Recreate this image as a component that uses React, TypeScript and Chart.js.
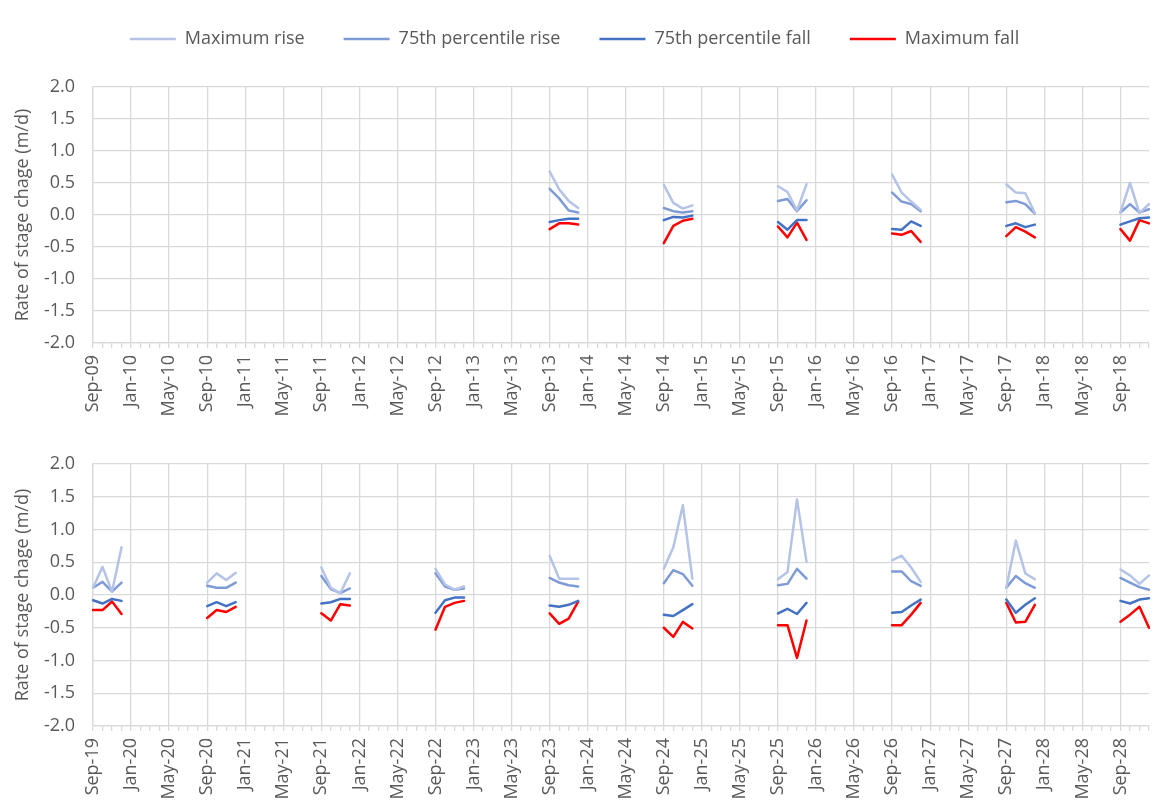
import React, { useEffect, useRef } from 'react';
import { Chart, registerables } from 'chart.js';

Chart.register(...registerables);

// ---------- categories ----------
const MONTH_NAMES = ['Jan', 'Feb', 'Mar', 'Apr', 'May', 'Jun', 'Jul', 'Aug', 'Sep', 'Oct', 'Nov', 'Dec'];
const TOP_START = { year: 2009, month: 8 }; // Sep-09
const BOTTOM_START = { year: 2019, month: 8 }; // Sep-19
const MONTH_COUNT = 112; // through Dec-18 / Dec-28
const SEASON_MONTHS = [8, 9, 10, 11]; // Sep, Oct, Nov, Dec

// ---------- series names / colours ----------
const SERIES_NAMES = ['Maximum rise', '75th percentile rise', '75th percentile fall', 'Maximum fall'];
const SERIES_COLORS = ['#b4c3e6', '#7f9bd6', '#4472c4', '#ff0000'];

// ---------- top panel values (Sep, Oct, Nov, Dec of each year) ----------
const TOP_YEARS = [2013, 2014, 2015, 2016, 2017, 2018];
const topMaxRise = [
  [0.68, 0.40, 0.22, 0.11],
  [0.47, 0.19, 0.10, 0.15],
  [0.45, 0.36, 0.07, 0.48],
  [0.63, 0.35, 0.21, 0.08],
  [0.48, 0.35, 0.34, 0.03],
  [0.04, 0.50, 0.03, 0.17],
];
const top75Rise = [
  [0.41, 0.26, 0.07, 0.04],
  [0.11, 0.06, 0.04, 0.06],
  [0.22, 0.25, 0.06, 0.23],
  [0.35, 0.21, 0.17, 0.06],
  [0.20, 0.22, 0.17, 0.02],
  [0.04, 0.17, 0.04, 0.09],
];
const top75Fall = [
  [-0.11, -0.08, -0.06, -0.06],
  [-0.08, -0.03, -0.04, -0.01],
  [-0.11, -0.23, -0.08, -0.08],
  [-0.22, -0.23, -0.10, -0.17],
  [-0.17, -0.13, -0.19, -0.15],
  [-0.15, -0.10, -0.05, -0.04],
];
const topMaxFall = [
  [-0.22, -0.13, -0.13, -0.15],
  [-0.44, -0.17, -0.09, -0.06],
  [-0.18, -0.35, -0.12, -0.39],
  [-0.29, -0.31, -0.25, -0.42],
  [-0.33, -0.19, -0.26, -0.35],
  [-0.22, -0.40, -0.08, -0.13],
];

// ---------- bottom panel values ----------
const BOTTOM_YEARS = [2019, 2020, 2021, 2022, 2023, 2024, 2025, 2026, 2027, 2028];
const botMaxRise = [
  [0.11, 0.43, 0.05, 0.73],
  [0.19, 0.33, 0.23, 0.34],
  [0.42, 0.11, 0.03, 0.33],
  [0.40, 0.16, 0.08, 0.13],
  [0.60, 0.25, 0.25, 0.25],
  [0.40, 0.73, 1.37, 0.25],
  [0.24, 0.35, 1.46, 0.51],
  [0.53, 0.60, 0.42, 0.20],
  [0.11, 0.83, 0.33, 0.24],
  [0.39, 0.30, 0.17, 0.30],
];
const bot75Rise = [
  [0.11, 0.20, 0.05, 0.19],
  [0.14, 0.11, 0.11, 0.19],
  [0.29, 0.09, 0.03, 0.10],
  [0.33, 0.13, 0.08, 0.10],
  [0.26, 0.19, 0.15, 0.13],
  [0.18, 0.38, 0.32, 0.14],
  [0.15, 0.17, 0.40, 0.25],
  [0.36, 0.36, 0.21, 0.14],
  [0.11, 0.29, 0.18, 0.11],
  [0.26, 0.19, 0.12, 0.08],
];
const bot75Fall = [
  [-0.08, -0.13, -0.06, -0.09],
  [-0.17, -0.11, -0.17, -0.11],
  [-0.13, -0.11, -0.06, -0.06],
  [-0.27, -0.08, -0.04, -0.04],
  [-0.16, -0.18, -0.15, -0.09],
  [-0.30, -0.32, -0.23, -0.14],
  [-0.28, -0.21, -0.29, -0.12],
  [-0.27, -0.26, -0.16, -0.07],
  [-0.07, -0.27, -0.15, -0.05],
  [-0.09, -0.13, -0.07, -0.05],
];
const botMaxFall = [
  [-0.23, -0.23, -0.10, -0.29],
  [-0.35, -0.23, -0.26, -0.18],
  [-0.28, -0.39, -0.14, -0.16],
  [-0.53, -0.18, -0.12, -0.09],
  [-0.28, -0.44, -0.36, -0.10],
  [-0.50, -0.64, -0.41, -0.51],
  [-0.46, -0.46, -0.96, -0.39],
  [-0.46, -0.46, -0.30, -0.12],
  [-0.12, -0.42, -0.41, -0.15],
  [-0.41, -0.30, -0.18, -0.50],
];

// ---------- axis ----------
const Y_MIN = -2;
const Y_MAX = 2;
const Y_STEP = 0.5;
const LABEL_EVERY = 4;
const Y_TITLE = 'Rate of stage chage (m/d)';

const FONT = "'Open Sans', 'DejaVu Sans', sans-serif";
const TEXT_COLOR = '#595959';
const GRID_COLOR = '#d9d9d9';

type YM = { year: number; month: number };

function buildMonths(start: YM, count: number): YM[] {
  const out: YM[] = [];
  for (let i = 0; i < count; i++) {
    const t = start.month + i;
    out.push({ year: start.year + Math.floor(t / 12), month: t % 12 });
  }
  return out;
}

function monthLabel(m: YM): string {
  return `${MONTH_NAMES[m.month]}-${String(m.year % 100).padStart(2, '0')}`;
}

function buildSeries(months: YM[], years: number[], segs: number[][]): (number | null)[] {
  return months.map((m) => {
    const yi = years.indexOf(m.year);
    const mi = SEASON_MONTHS.indexOf(m.month);
    if (yi < 0 || mi < 0) return null;
    return segs[yi][mi];
  });
}

function makeConfig(
  start: YM,
  years: number[],
  groups: number[][][],
  opts: { legend: boolean; padTop: number; xHeight: number; legendHeight?: number }
): any {
  const months = buildMonths(start, MONTH_COUNT);
  const labels = months.map(monthLabel);
  const datasets = groups.map((g, i) => ({
    label: SERIES_NAMES[i],
    data: buildSeries(months, years, g),
    borderColor: SERIES_COLORS[i],
    backgroundColor: SERIES_COLORS[i],
    borderWidth: 2.5,
    pointRadius: 0,
    pointHoverRadius: 0,
    tension: 0,
    spanGaps: false,
    borderJoinStyle: 'round',
    borderCapStyle: 'round',
  }));

  const plugins: any[] = [];
  if (opts.legend && opts.legendHeight) {
    const h = opts.legendHeight;
    plugins.push({
      id: 'legendHeight',
      beforeInit(chart: any) {
        const lg = chart.legend;
        if (!lg || lg.__patched) return;
        const orig = lg.fit;
        lg.fit = function () {
          orig.call(this);
          this.height = h;
        };
        lg.__patched = true;
      },
    });
  }

  return {
    type: 'line',
    data: { labels, datasets },
    plugins,
    options: {
      animation: false,
      responsive: false,
      devicePixelRatio: 1,
      layout: { padding: { top: opts.padTop, right: 22, left: 0, bottom: 0 } },
      plugins: {
        legend: {
          display: opts.legend,
          position: 'top',
          align: 'center',
          labels: {
            usePointStyle: true,
            pointStyle: 'line',
            pointStyleWidth: 46,
            padding: 39,
            color: TEXT_COLOR,
            font: { family: FONT, size: 18 },
          },
        },
        tooltip: { enabled: false },
      },
      scales: {
        x: {
          type: 'category',
          offset: false,
          afterFit: (scale: any) => {
            scale.height = opts.xHeight;
            scale.paddingLeft = 0;
            scale.paddingRight = 0;
          },
          grid: {
            display: true,
            drawOnChartArea: true,
            drawTicks: true,
            tickLength: 5,
            offset: false,
            color: (ctx: any) => (ctx.index % LABEL_EVERY === 0 ? GRID_COLOR : 'rgba(0,0,0,0)'),
            tickColor: GRID_COLOR,
            lineWidth: 1.3,
          },
          border: { display: true, color: GRID_COLOR, width: 1.3 },
          ticks: {
            autoSkip: false,
            minRotation: 90,
            maxRotation: 90,
            padding: 7,
            color: TEXT_COLOR,
            font: { family: FONT, size: 18 },
            callback: (_v: any, idx: number) => (idx % LABEL_EVERY === 0 ? labels[idx] : ''),
          },
        },
        y: {
          min: Y_MIN,
          max: Y_MAX,
          afterFit: (scale: any) => {
            scale.width = 93;
          },
          grid: { color: GRID_COLOR, drawTicks: false, lineWidth: 1.3 },
          border: { display: true, color: GRID_COLOR, width: 1.3 },
          ticks: {
            stepSize: Y_STEP,
            padding: 18,
            color: TEXT_COLOR,
            font: { family: FONT, size: 18 },
            callback: (v: any) => Number(v).toFixed(1),
          },
          title: {
            display: true,
            text: Y_TITLE,
            color: TEXT_COLOR,
            font: { family: FONT, size: 18 },
            padding: { top: 12, bottom: 0 },
          },
        },
      },
    },
  };
}

function ChartCanvas({ config, width, height }: { config: () => any; width: number; height: number }) {
  const ref = useRef<HTMLCanvasElement | null>(null);
  useEffect(() => {
    if (!ref.current) return;
    const chart = new Chart(ref.current, config());
    return () => chart.destroy();
  }, []);
  return <canvas ref={ref} width={width} height={height} style={{ display: 'block', width, height }} />;
}

export default function App() {
  useEffect(() => {
    document.body.style.margin = '0';
  }, []);
  return (
    <div style={{ position: 'relative', width: 1171, height: 812, background: '#fff', overflow: 'hidden' }}>
      <div style={{ position: 'absolute', left: 0, top: -9 }}>
        <ChartCanvas
          width={1171}
          height={431}
          config={() =>
            makeConfig(TOP_START, TOP_YEARS, [topMaxRise, top75Rise, top75Fall, topMaxFall], {
              legend: true,
              padTop: 0,
              xHeight: 79,
              legendHeight: 96,
            })
          }
        />
      </div>
      <div style={{ position: 'absolute', left: 0, top: 422 }}>
        <ChartCanvas
          width={1171}
          height={390}
          config={() =>
            makeConfig(BOTTOM_START, BOTTOM_YEARS, [botMaxRise, bot75Rise, bot75Fall, botMaxFall], {
              legend: false,
              padTop: 42,
              xHeight: 86,
            })
          }
        />
      </div>
    </div>
  );
}
